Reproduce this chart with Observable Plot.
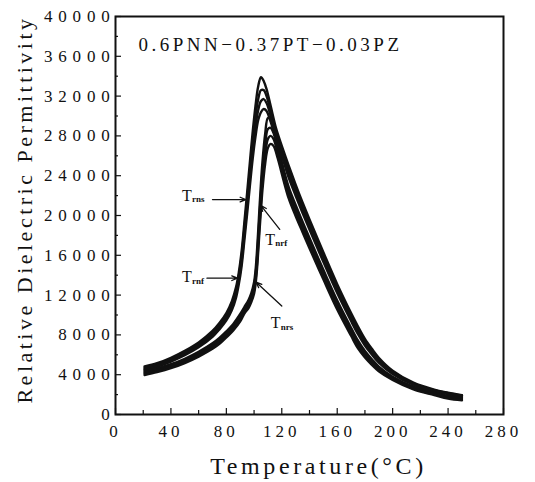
<!DOCTYPE html>
<html><head><meta charset="utf-8">
<script src="https://cdn.jsdelivr.net/npm/d3@7"></script>
<script src="https://cdn.jsdelivr.net/npm/@observablehq/plot@0.6"></script>
<style>
html,body{margin:0;padding:0;background:#fff;}
#chart{width:535px;height:482px;}
#chart svg text{font-family:'Liberation Serif','Times New Roman',serif !important;}
g[aria-label="y-axis tick label"] text{letter-spacing:5.8px;}
g[aria-label="x-axis tick label"] text{letter-spacing:4px;}
</style></head><body><div id="chart"></div>
<script>
// ---- data ----
const tempA = [21,30,40,50,60,70,75,80,84,87,89,91,93,95,97,99,101,103,105,107,109,112,116,120,125,130,135,140,150,160,170,175,180,185,190,200,215,230,240,250];
const epsA1 = [4820,5150,5700,6400,7250,8400,9200,10200,11400,12800,14300,16400,19300,22300,25400,28400,31000,33000,33900,33500,32700,31000,28700,27000,25000,23100,21300,19600,16300,13100,10200,8850,7600,6600,5700,4400,3200,2500,2200,1950];
const epsA2 = [4700,5030,5570,6250,7080,8200,8980,9950,11100,12450,13900,15900,18700,21600,24600,27500,29900,31700,32600,32600,32000,30500,28400,26700,24600,22730,20950,19260,15980,12800,9930,8590,7380,6410,5540,4290,3130,2450,2150,1910];
const epsA3 = [4580,4910,5440,6100,6910,8000,8760,9700,10800,12100,13500,15400,18100,20900,23800,26600,28900,30600,31500,31700,31300,30000,28000,26400,24200,22360,20600,18920,15660,12500,9660,8330,7160,6220,5380,4180,3060,2400,2100,1870];
const epsA4 = [4470,4800,5320,5960,6750,7800,8550,9450,10500,11750,13100,14900,17500,20200,23000,25700,27900,29600,30400,30700,30500,29400,27600,26000,23800,21990,20250,18580,15340,12200,9390,8070,6940,6030,5220,4070,2990,2350,2050,1830];

const tempB = [21,30,40,50,60,70,75,80,85,90,93,96,98,100,101,102,103,104,105,106,108,110,112,114,117,120,125,130,135,140,150,160,170,175,180,185,190,200,215,230,240,250];
const epsB1 = [4350,4620,5050,5600,6300,7150,7700,8350,9100,10100,10800,11500,12200,13300,14400,16200,18500,21000,23300,25300,28200,29800,29700,29000,27300,25400,22850,21060,19370,17730,14540,11450,8720,7420,6390,5560,4820,3800,2800,2200,1880,1700];
const epsB2 = [4230,4500,4920,5460,6140,6970,7500,8150,8880,9850,10650,11200,11900,12900,13900,15500,17700,20100,22300,24300,27100,28700,28800,28300,26800,25000,22470,20690,19020,17390,14220,11150,8450,7160,6170,5370,4660,3690,2700,2120,1780,1610];
const epsB3 = [4100,4380,4790,5320,5980,6790,7300,7950,8660,9600,10400,10950,11600,12500,13450,14900,17000,19300,21400,23400,26100,27700,28000,27700,26300,24600,22090,20320,18670,17050,13900,10850,8180,6900,5950,5180,4500,3580,2610,2040,1690,1510];
const epsB4 = [3960,4250,4650,5170,5820,6600,7100,7750,8450,9350,10150,10700,11300,12150,13000,14400,16400,18600,20600,22500,25200,26800,27200,27000,25800,24200,21710,19950,18320,16710,13580,10550,7910,6640,5730,4990,4340,3470,2520,1960,1600,1420];

const xTickLabels = [0,40,80,120,160,200,240,280];
const xMinorTicks = [20,60,100,140,180,220,260];
const yTickLabels = [0,4000,8000,12000,16000,20000,24000,28000,32000,36000,40000];
const yMinorTicks = [2000,6000,10000,14000,18000,22000,26000,30000,34000,38000];

const titleText = "0.6PNN\u22120.37PT\u22120.03PZ";
const xLabel = "Temperature(\u00B0C)";
const yLabel = "Relative Dielectric Permittivity";

// annotations (data units)
const annSub = ["rns","rnf","nrf","nrs"];
const annT = [48,48,108,112];
const annEps = [22000,13800,17600,9200];
const arrowT1 = [70,66,118.5,120];
const arrowE1 = [21600,13700,18600,10900];
const arrowT2 = [94,88,105,101.5];
const arrowE2 = [21600,13700,21000,13300];

// ---- build ----
const seriesA = [["A1",epsA1],["A2",epsA2],["A3",epsA3],["A4",epsA4]];
const seriesB = [["B1",epsB1],["B2",epsB2],["B3",epsB3],["B4",epsB4]];
const rows = [];
for (const [name, vals] of seriesA) vals.forEach((v,i)=>rows.push({series:name, T:tempA[i], eps:v}));
for (const [name, vals] of seriesB) vals.forEach((v,i)=>rows.push({series:name, T:tempB[i], eps:v}));
const ann = annSub.map((s,i)=>({sub:s, T:annT[i], eps:annEps[i]}));
const arrows = annSub.map((s,i)=>({x1:arrowT1[i], y1:arrowE1[i], x2:arrowT2[i], y2:arrowE2[i]}));

const W = 535, H = 482, mL = 115, mR = 32, mT = 16, mB = 68;
const fw = W - mL - mR, fh = H - mT - mB;
const ink = "#111";

const chart = Plot.plot({
  width: W, height: H,
  marginLeft: mL, marginRight: mR, marginTop: mT, marginBottom: mB,
  style: {fontFamily: "'Liberation Serif', serif", background: "#fff", color: ink},
  x: {domain: [0, 280]},
  y: {domain: [0, 40000]},
  marks: [
    Plot.line(rows, {x: "T", y: "eps", z: "series", stroke: ink, strokeWidth: 2.4, curve: "catmull-rom"}),
    Plot.frame({stroke: ink, strokeWidth: 2}),
    Plot.tickX(xTickLabels, {x: d => d, stroke: ink, strokeWidth: 1.2, insetTop: fh - 6}),
    Plot.tickX(xMinorTicks, {x: d => d, stroke: ink, strokeWidth: 1.2, insetTop: fh - 4}),
    Plot.tickY(yTickLabels, {y: d => d, stroke: ink, strokeWidth: 1.2, insetRight: fw - 6}),
    Plot.tickY(yMinorTicks, {y: d => d, stroke: ink, strokeWidth: 1.2, insetRight: fw - 3}),
    Plot.axisX({ticks: xTickLabels, tickSize: 0, tickPadding: 10, fontSize: 17, label: null, tickFormat: d => String(d)}),
    Plot.axisY({ticks: yTickLabels, tickSize: 0, tickPadding: 0, fontSize: 17, label: null, tickFormat: d => String(d)}),
    Plot.text([titleText], {frameAnchor: "top-left", dx: 23, dy: 28, textAnchor: "start", lineAnchor: "middle", fontSize: 19, fill: ink}),
    Plot.text([xLabel], {frameAnchor: "bottom", dx: 9, dy: 52, textAnchor: "middle", lineAnchor: "middle", fontSize: 24, fill: ink}),
    Plot.text([yLabel], {frameAnchor: "left", dx: -84, dy: -6, rotate: -90, textAnchor: "middle", lineAnchor: "bottom", fontSize: 22, fill: ink}),
    Plot.arrow(arrows, {x1: "x1", y1: "y1", x2: "x2", y2: "y2", stroke: ink, strokeWidth: 1.3, headLength: 7, headAngle: 45}),
    Plot.text(ann, {x: "T", y: "eps", text: () => "T", fontSize: 16, textAnchor: "start", lineAnchor: "middle", fill: ink}),
    Plot.text(ann, {x: "T", y: "eps", text: "sub", dx: 10, dy: 4, fontSize: 9, fontWeight: "bold", textAnchor: "start", lineAnchor: "middle", fill: ink})
  ]
});
const svg = d3.select(chart);
svg.selectAll('g[aria-label="text"] text').each(function(){
  const t = this.textContent;
  if (t === titleText) this.setAttribute("letter-spacing", "3.5");
  if (t === xLabel) this.setAttribute("letter-spacing", "3.6");
  if (t === yLabel) this.setAttribute("letter-spacing", "3.5");
});
document.getElementById("chart").appendChild(chart);
</script></body></html>
